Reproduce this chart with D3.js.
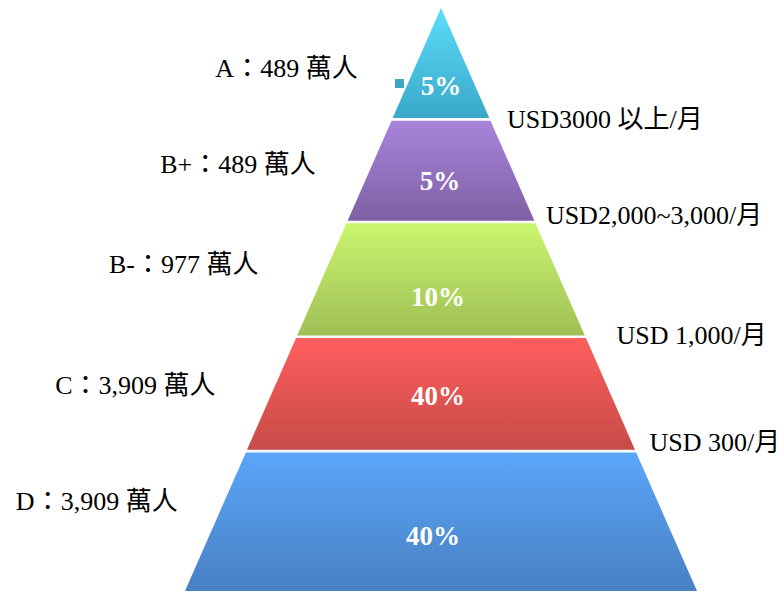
<!DOCTYPE html>
<html>
<head>
<meta charset="utf-8">
<script src="https://cdn.jsdelivr.net/npm/d3@7/dist/d3.min.js"></script>
<style>
  html, body { margin: 0; padding: 0; background: #fff; }
  svg { display: block; }
  text { font-family: "Liberation Serif", "Times New Roman", "Noto Sans CJK TC", serif; }
</style>
</head>
<body>
<svg id="chart" width="779" height="592"></svg>
<script>
// Income tiers, top of the pyramid first
const tiers = ["A", "B+", "B-", "C", "D"];
const population = [489, 489, 977, 3909, 3909];   // 萬人
const shares = [5, 5, 10, 40, 40];                 // % of population
const incomeLabels = ["USD3000 以上/月", "USD2,000~3,000/月", "USD 1,000/月", "USD 300/月"];

// Gradient stops per tier (top colour, bottom colour)
const tierTop    = ["#5cdcfb", "#a884db", "#cbf56e", "#ff5e5e", "#5ba6fa"];
const tierBottom = ["#3aa8c8", "#7e60a4", "#9ebf55", "#c64b47", "#4880c2"];

// Layout
const apexX = 441, apexY = 8, baseY = 591, baseHalf = 256;
// where each tier boundary sits, as a fraction of the pyramid height
const tierBreaks = [0, 0.191, 0.367, 0.564, 0.760, 1];
const gap = 2.6;

const svg = d3.select("#chart");
const y = d3.scaleLinear().domain([0, 1]).range([apexY, baseY]);
const half = d3.scaleLinear().domain([apexY, baseY]).range([0, baseHalf]);

const defs = svg.append("defs");
tiers.forEach((t, i) => {
  const g = defs.append("linearGradient")
    .attr("id", "grad" + i).attr("x1", 0).attr("y1", 0).attr("x2", 0).attr("y2", 1);
  g.append("stop").attr("offset", "0%").attr("stop-color", tierTop[i]);
  g.append("stop").attr("offset", "100%").attr("stop-color", tierBottom[i]);
});

const rows = tiers.map((t, i) => {
  const y0 = y(tierBreaks[i]) + (i === 0 ? 0 : gap / 2);
  const y1 = y(tierBreaks[i + 1]) - (i === tiers.length - 1 ? 0 : gap / 2);
  return { tier: t, pop: population[i], share: shares[i], i, y0, y1, mid: (y0 + y1) / 2 };
});

const line = d3.line();
svg.append("g").selectAll("path").data(rows).join("path")
  .attr("d", d => {
    const h0 = half(d.y0), h1 = half(d.y1);
    return line([[apexX - h0, d.y0], [apexX + h0, d.y0], [apexX + h1, d.y1], [apexX - h1, d.y1]]) + "Z";
  })
  .attr("fill", d => `url(#grad${d.i})`);

// share labels inside the tiers
const shareDy = [23, 10, 17, 2, 14];
const shareDx = [0, -1, -3, -3, -8];
svg.append("g").selectAll("text").data(rows).join("text")
  .attr("x", d => apexX + shareDx[d.i])
  .attr("y", d => d.mid + shareDy[d.i])
  .attr("dy", "0.35em")
  .attr("text-anchor", "middle")
  .attr("fill", "#fff")
  .attr("font-weight", "bold")
  .attr("font-size", 27)
  .text(d => d.share + "%");

// small marker beside the top tier
svg.append("rect")
  .attr("x", apexX - 46).attr("y", rows[0].mid + 16)
  .attr("width", 9).attr("height", 9)
  .attr("fill", "#3aa6c8");

// population labels to the left of each tier
const fmt = d3.format(",");
const leftDy = [5, -7, -15, -9, -21];
const leftGap = [57, 57, 70, 60, 47];
svg.append("g").selectAll("text").data(rows).join("text")
  .attr("x", d => apexX - half(d.mid + leftDy[d.i]) - leftGap[d.i])
  .attr("y", d => d.mid + leftDy[d.i])
  .attr("dy", "0.35em")
  .attr("text-anchor", "end")
  .attr("font-size", 26)
  .attr("fill", "#000")
  .text(d => `${d.tier}：${fmt(d.pop)} 萬人`);

// income thresholds at the tier boundaries, on the right
const rightDy = [0, -7, -2, -9];
const rightGap = [17, 14, 32, 18];
svg.append("g").selectAll("text").data(incomeLabels).join("text")
  .attr("x", (d, i) => apexX + half(y(tierBreaks[i + 1]) + rightDy[i]) + rightGap[i])
  .attr("y", (d, i) => y(tierBreaks[i + 1]) + rightDy[i])
  .attr("dy", "0.35em")
  .attr("text-anchor", "start")
  .attr("font-size", 26)
  .attr("fill", "#000")
  .text(d => d);
</script>
</body>
</html>
